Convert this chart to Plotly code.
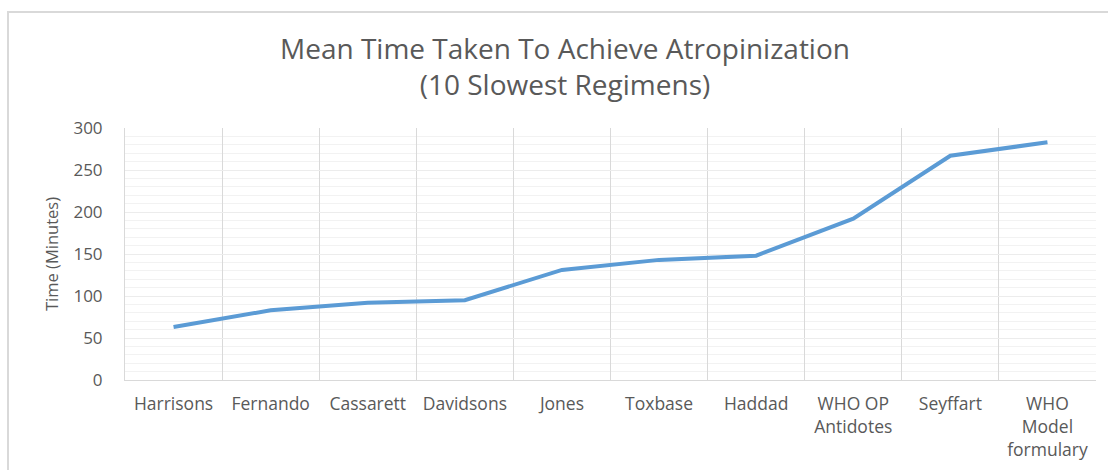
import plotly.graph_objects as go

# Mean time per regimen (minutes)
regimens = ['Harrisons', 'Fernando', 'Cassarett', 'Davidsons', 'Jones',
            'Toxbase', 'Haddad', 'WHO OP<br>Antidotes', 'Seyffart',
            'WHO<br>Model<br>formulary']
mean_time = [63, 83, 92, 95, 131, 143, 148, 192, 267, 283]

text_color = '#595959'
font_family = 'Open Sans, Calibri, sans-serif'

fig = go.Figure()
fig.add_trace(go.Scatter(
    x=regimens,
    y=mean_time,
    mode='lines',
    line=dict(color='#5b9bd5', width=4),
    hovertemplate='<b>%{x}</b><br>%{y} min<extra></extra>'
))

fig.update_layout(
    width=1108, height=470,
    paper_bgcolor='white',
    plot_bgcolor='white',
    font=dict(family=font_family, color=text_color, size=17),
    margin=dict(l=125, r=12, t=128, b=90),
    showlegend=False,
)

# title centred around x=565 px
fig.add_annotation(
    text='Mean Time Taken To Achieve Atropinization<br>(10 Slowest Regimens)',
    xref='paper', yref='paper', x=(565 - 125) / 971, y=(380 - 66) / 252,
    xanchor='center', yanchor='middle',
    showarrow=False, align='center',
    font=dict(size=28, color=text_color, family=font_family),
)

fig.update_xaxes(
    type='category',
    tickson='boundaries',
    showgrid=True, gridcolor='#d9d9d9', gridwidth=1,
    showline=True, linecolor='#d9d9d9', linewidth=1,
    ticks='', ticklabelstandoff=8, automargin=False,
    tickfont=dict(size=17.5, color=text_color),
    range=[-0.5, 9.5],
)
fig.update_yaxes(
    range=[0, 300], dtick=50,
    showgrid=True, gridcolor='#ececec', gridwidth=1,
    minor=dict(dtick=10, showgrid=True, gridcolor='#f2f2f2'),
    showline=True, linecolor='#d9d9d9', linewidth=1,
    zeroline=False, ticks='', ticklabelstandoff=18, automargin=False,
    tickfont=dict(size=17, color=text_color),
    title=dict(text='Time (Minutes)', font=dict(size=16.5, color=text_color), standoff=10),
)

# outer chart frame
fig.add_shape(
    type='rect', xref='paper', yref='paper',
    x0=(8 - 125) / 971, x1=(1112 - 125) / 971,
    y0=-0.5, y1=(380 - 12) / 252,
    line=dict(color='#d9d9d9', width=2), layer='below'
)

fig.write_html('out.html', config={'displayModeBar': False},
               post_script="document.body.style.margin='0';")
